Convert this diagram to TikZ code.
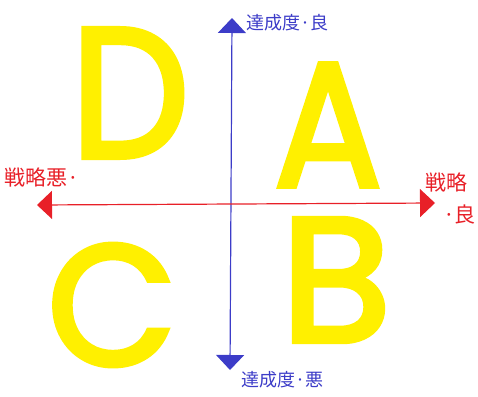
\documentclass[tikz,border=0pt]{standalone}
\usepackage{fontspec}
\setmainfont{Noto Sans CJK JP}
\newfontfamily\letterfont[FakeBold=3]{Poppins}
\usepackage{tikz}
\usetikzlibrary{arrows.meta}
\definecolor{hiyellow}{RGB}{255,240,0}
\definecolor{axblue}{RGB}{60,60,200}
\definecolor{axred}{RGB}{232,32,40}
\begin{document}
\begin{tikzpicture}[x=1pt,y=-1pt,
  letter/.style={inner sep=0pt,text=hiyellow,font=\letterfont\fontsize{190}{190}\selectfont},
  lbl/.style={inner sep=0pt,font=\fontsize{18}{20}\selectfont},
  redlbl/.style={lbl,text=axred,font=\fontsize{21}{23}\selectfont},
  arr/.style={{Triangle[width=28pt,length=15pt]}-{Triangle[width=28pt,length=15pt]},line width=1.2pt}]
\useasboundingbox (0,0) rectangle (478,396);
\node[letter,xscale=0.88,yscale=0.97] (D) at (130,93) {D};
\node[letter,xscale=0.84,yscale=0.93] (A) at (328,125) {A};
\node[letter,xscale=0.88,yscale=0.9] (C) at (112,305) {C};
\node[letter,xscale=0.95,yscale=0.93] (B) at (336,280) {B};
\coordinate (top) at (232,18);
\coordinate (bot) at (230,370);
\coordinate (lft) at (37,205);
\coordinate (rgt) at (435,203);
\draw[arr,axblue] (bot) -- (top);
\draw[arr,axred] (lft) -- (rgt);
\node[lbl,text=axblue,anchor=west] (good) at (246,23) {達成度·良};
\node[lbl,text=axblue,anchor=west] (bad) at (241,380) {達成度·悪};
\node[redlbl,anchor=west] (weak) at (4,177) {戦略悪·};
\node[redlbl,anchor=west] (strong) at (425,182) {戦略};
\node[redlbl,anchor=west] (strongb) at (443,215) {·良};
\end{tikzpicture}
\end{document}
